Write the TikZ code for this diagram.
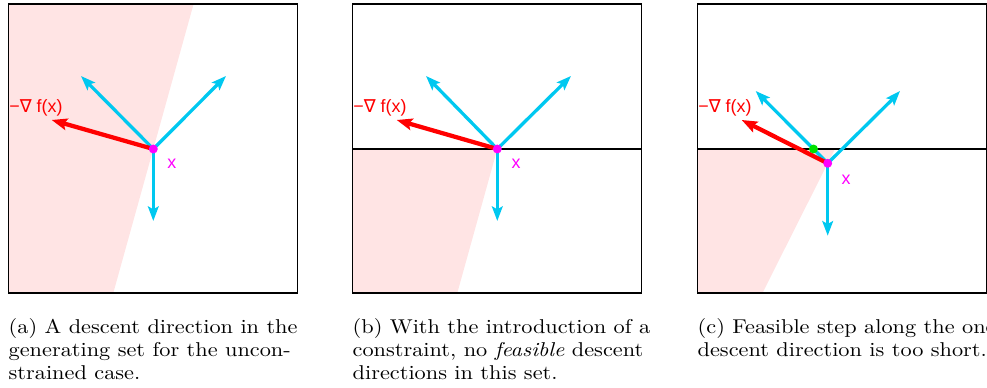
\documentclass[tikz,border=0pt]{standalone}
\usepackage{fontspec}
\newfontfamily\labelfont{Liberation Sans}
\newfontfamily\nablafont{DejaVu Sans}
\usetikzlibrary{arrows.meta}
\definecolor{dirBlue}{HTML}{00C8F0}
\definecolor{gradRed}{HTML}{FF0000}
\definecolor{halfPink}{HTML}{FFE4E4}
\definecolor{iterMagenta}{HTML}{FF00FF}
\definecolor{stepGreen}{HTML}{00E000}
\newcommand{\panelframe}{%
  \draw[panel] (8.3,4) rectangle (297.7,293);
}
\newcommand{\gradtext}{−{\nablafont ∇} f(x)}
% caption lines: justified full line, and a last line at natural width
\newcommand{\capline}[1]{\scalebox{1.115}[1]{\makebox[134pt][s]{#1}}}
\newcommand{\caplast}[1]{\scalebox{1.115}[1]{#1}}

\begin{document}
\begin{tikzpicture}[x=0.515pt, y=-0.515pt,
  panel/.style={draw=black, line width=0.8pt},
  halfspace/.style={fill=halfPink},
  constraint/.style={draw=black, line width=1.3pt},
  dirarrow/.style={draw=dirBlue, line width=1.7pt, -{Stealth[length=7.5pt, width=5.5pt, inset=1.5pt]}},
  gradarrow/.style={draw=gradRed, line width=2.2pt, -{Stealth[length=8pt, width=6pt, inset=1.5pt]}},
  dot/.style={circle, inner sep=0pt, minimum size=4.6pt},
  gradlabel/.style={anchor=base west, inner sep=0pt, text=gradRed, font=\labelfont\fontsize{9.2}{11}\selectfont},
  ptlabel/.style={text=iterMagenta, inner sep=0pt, font=\labelfont\fontsize{9.2}{11}\selectfont},
  capt/.style={anchor=north west, inner sep=0pt, text width=149.4pt, align=left, font=\fontsize{10.3}{12}\selectfont}]
  \useasboundingbox (0,0) rectangle (987,388);
  % (a) unconstrained
  \fill[halfspace] (8.3,4) -- (193.6,4) -- (113.3,293) -- (8.3,293) -- cycle;
  \panelframe
  \coordinate (xa) at (153.3,149);
  \coordinate (ula) at (81,76);
  \coordinate (ura) at (226,76);
  \coordinate (dna) at (153.3,221);
  \coordinate (gra) at (51.7,120);
  \draw[dirarrow] (xa) -- (ula);
  \draw[dirarrow] (xa) -- (ura);
  \draw[dirarrow] (xa) -- (dna);
  \draw[gradarrow] (xa) -- (gra);
  \node[dot, fill=iterMagenta] (dota) at (xa) {};
  \node[gradlabel] (gla) at (9,112.5) {\gradtext};
  \node[ptlabel] (pla) at (171.8,164) {x};
  \node[capt] (capa) at (8.3,316.5) {\strut\capline{(a) A descent direction in the}\\
    \capline{generating set for the uncon-}\\
    \caplast{strained case.}};
  % (b) with a constraint
  \begin{scope}[shift={(344,0)}]
    \fill[halfspace] (8.3,149) -- (153.3,149) -- (113.3,293) -- (8.3,293) -- cycle;
    \draw[constraint] (8.3,149) -- (297.7,149);
    \panelframe
    \coordinate (xb) at (153.3,149);
    \coordinate (ulb) at (82,76);
    \coordinate (urb) at (227,76);
    \coordinate (dnb) at (153.3,221);
    \coordinate (grb) at (52.7,120);
    \draw[dirarrow] (xb) -- (ulb);
    \draw[dirarrow] (xb) -- (urb);
    \draw[dirarrow] (xb) -- (dnb);
    \draw[gradarrow] (xb) -- (grb);
    \node[dot, fill=iterMagenta] (dotb) at (xb) {};
    \node[gradlabel] (glb) at (9,112.5) {\gradtext};
    \node[ptlabel] (plb) at (172,164) {x};
    \node (omb) at (137,280) {$\mathbf{\Omega}$};
    \node[capt] (capb) at (8.3,316.5) {\strut\capline{(b) With the introduction of a}\\
      \capline{constraint, no \textit{feasible} descent}\\
      \caplast{directions in this set.}};
  \end{scope}
  % (c) step too short
  \begin{scope}[shift={(689,0)}]
    \fill[halfspace] (8.3,149) -- (145.9,149) -- (73.5,293) -- (8.3,293) -- cycle;
    \draw[constraint] (8.3,149) -- (297.7,149);
    \panelframe
    \coordinate (xc) at (138.7,163.3);
    \coordinate (ulc) at (66.7,91);
    \coordinate (urc) at (211,91);
    \coordinate (dnc) at (138.7,235.7);
    \coordinate (grc) at (52.7,120);
    \draw[dirarrow] (xc) -- (ulc);
    \draw[dirarrow] (xc) -- (urc);
    \draw[dirarrow] (xc) -- (dnc);
    \draw[gradarrow] (xc) -- (grc);
    \node[dot, fill=iterMagenta] (dotc) at (xc) {};
    \node[dot, fill=stepGreen] (stepc) at (124.5,149) {};
    \node[gradlabel] (glc) at (9,112.5) {\gradtext};
    \node[ptlabel] (plc) at (157,180) {x};
    \node (omc) at (137,280) {$\mathbf{\Omega}$};
    \node[capt] (capc) at (8.3,316.5) {\strut\capline{(c) Feasible step along the one}\\
      \caplast{descent direction is too short.}};
  \end{scope}
\end{tikzpicture}
\end{document}
